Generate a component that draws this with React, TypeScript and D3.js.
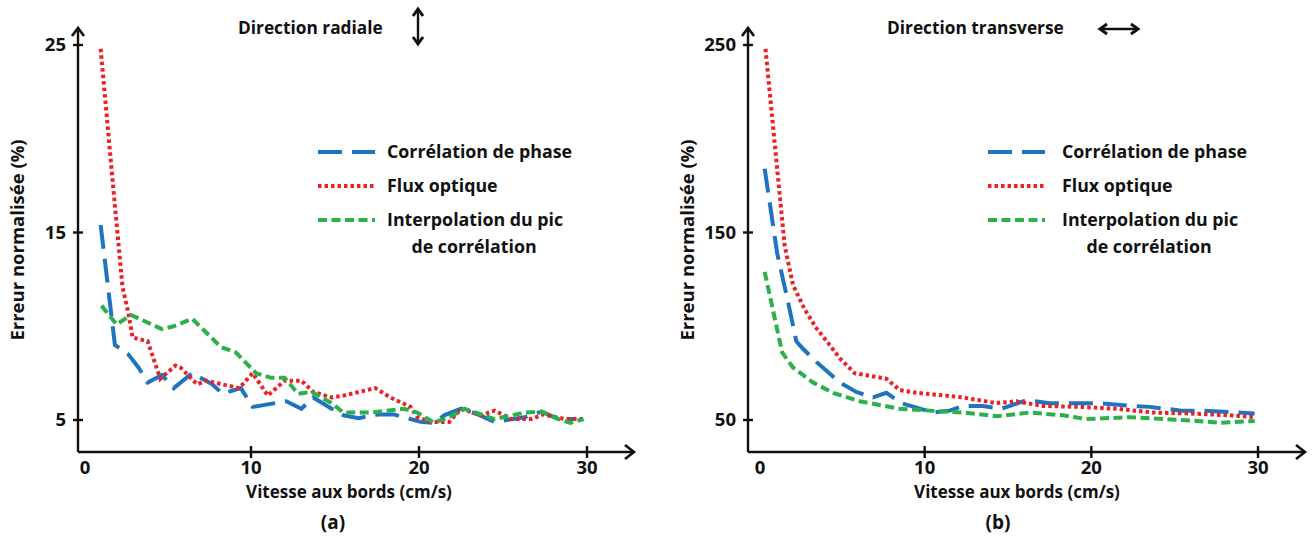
import React from "react";
import * as d3 from "d3";

// ---------- DATA ----------
// Panel (a): Direction radiale
const blueAX = [1.05, 1.9, 2.7, 3.3, 3.85, 4.7, 5.4, 6.5, 6.9, 7.7, 8.3, 9.4, 10.1, 12.1, 13.0, 13.7, 14.8, 15.5, 16.4, 17.6, 18.5, 20.1, 20.9, 21.5, 22.5, 23.5, 24.5, 26.3, 27.3, 28.3, 29.3];
const blueAY = [15.4, 9.0, 8.5, 7.8, 7.0, 7.4, 6.7, 7.5, 7.3, 6.9, 6.4, 6.7, 5.7, 6.0, 5.6, 6.2, 5.6, 5.25, 5.1, 5.3, 5.3, 4.9, 4.85, 5.25, 5.6, 5.3, 4.9, 5.15, 5.45, 5.05, 5.05];
const redAX = [1.05, 1.8, 2.35, 2.7, 2.95, 3.85, 4.6, 5.5, 5.8, 6.8, 7.3, 8.8, 9.3, 10.1, 11.0, 12.0, 13.0, 13.7, 14.8, 15.5, 17.4, 18.3, 19.5, 19.9, 20.7, 21.8, 22.5, 23.7, 24.5, 25.5, 26.7, 27.4, 28.7, 29.8];
const redAY = [24.8, 17.4, 12.1, 10.7, 9.4, 9.2, 7.2, 7.9, 7.8, 6.9, 7.1, 6.8, 6.7, 7.5, 6.3, 7.1, 7.1, 6.5, 6.2, 6.3, 6.7, 6.2, 5.7, 5.15, 4.9, 4.9, 5.6, 5.25, 5.5, 5.05, 5.05, 5.3, 5.05, 5.05];
const greenAX = [1.1, 2.0, 2.85, 4.7, 5.4, 6.5, 8.2, 9.1, 10.3, 11.2, 12.0, 12.8, 13.6, 14.8, 15.5, 17.1, 19.1, 19.9, 20.9, 21.9, 22.7, 24.5, 26.3, 27.3, 28.3, 29.0, 29.8];
const greenAY = [11.1, 10.1, 10.6, 9.85, 10.0, 10.4, 8.9, 8.6, 7.5, 7.25, 7.25, 6.4, 6.5, 5.9, 5.4, 5.4, 5.6, 5.4, 4.85, 5.2, 5.6, 5.05, 5.4, 5.45, 5.05, 4.85, 5.05];

// Panel (b): Direction transverse
const blueBX = [0.4, 1.15, 1.8, 2.3, 2.7, 3.5, 4.9, 5.9, 6.9, 7.7, 8.6, 10.5, 11.5, 12.3, 13.5, 14.6, 16.1, 17.5, 19.5, 20.5, 22.5, 23.5, 25.4, 26.6, 28.7, 29.8];
const blueBY = [184, 139, 113, 92, 88, 81, 70, 65, 62, 64.5, 59, 54, 55, 57.5, 57.5, 56, 60.5, 59, 59, 59, 57.5, 57, 55, 55, 54, 53.5];
const redBX = [0.45, 1.6, 2.1, 2.8, 3.5, 4.3, 4.9, 5.8, 7.7, 8.5, 9.5, 11.3, 12.3, 14.3, 15.5, 16.1, 17.1, 19.3, 21.5, 23.7, 25.9, 28.3, 29.8];
const redBY = [248, 143, 122, 109, 99, 90, 83, 75, 72, 66, 64.5, 63, 62, 59, 60, 59, 57.5, 57, 56, 54, 53.5, 52.5, 51.5];
const greenBX = [0.4, 1.45, 2.1, 3.3, 4.5, 6.1, 8.5, 10.3, 12.3, 14.3, 16.3, 18.3, 19.7, 22.3, 24.3, 26.3, 27.8, 29.8];
const greenBY = [129, 86, 78, 70, 64.5, 60, 56, 55, 54, 52, 54, 52.5, 50.5, 51.5, 50.5, 49.5, 48.5, 49.5];

const xTicks = [0, 10, 20, 30];
const yTicksA = [5, 15, 25];
const yTicksB = [50, 150, 250];
const seriesNames = ["Corrélation de phase", "Flux optique", "Interpolation du pic", "de corrélation"];
const xLabel = "Vitesse aux bords (cm/s)";
const yLabel = "Erreur normalisée (%)";

// ---------- STYLE ----------
const FONT = "'Open Sans', sans-serif";
const BLUE = "#1f74c0";
const RED = "#ec2127";
const GREEN = "#2cb04a";
const DASH_BLUE = "24 10";
const DASH_RED = "3.5 3";
const DASH_GREEN = "9 4.5";

type PanelProps = {
  left: number;
  x0: number; x30: number;
  yTicks: number[];
  yDomain: [number, number];
  series: { xs: number[]; ys: number[]; color: string; dash: string }[];
  title: string;
  titleX: number;
  arrow: "v" | "h";
  arrowX: number;
  legendX: number;
  legendTextX: number;
  tag: string;
  tagX: number;
  xLabelX: number;
  yLabelX: number;
};

function Panel(p: PanelProps) {
  const axisY = 452;
  const xs = d3.scaleLinear().domain([0, 30]).range([p.x0, p.x30]);
  const ys = d3.scaleLinear().domain(p.yDomain).range([420, 45]);
  const xEnd = p.x30 + 47;
  const line = d3.line<[number, number]>().x((d) => xs(d[0])).y((d) => ys(d[1]));
  const legendRows = [152, 186, 220];
  return (
    <g>
      <text x={p.titleX} y={34} fontFamily={FONT} fontWeight={700} fontSize={17.3} fill="#111">{p.title}</text>
      {p.arrow === "v" ? (
        <g stroke="#111" strokeWidth={2.4} fill="none">
          <line x1={p.arrowX} y1={9} x2={p.arrowX} y2={44} />
          <polyline points={`${p.arrowX - 5},${16} ${p.arrowX},${9} ${p.arrowX + 5},${16}`} strokeWidth={3} />
          <polyline points={`${p.arrowX - 5},${37} ${p.arrowX},${44} ${p.arrowX + 5},${37}`} strokeWidth={3} />
        </g>
      ) : (
        <g stroke="#111" strokeWidth={2.4} fill="none">
          <line x1={p.arrowX} y1={29} x2={p.arrowX + 38} y2={29} />
          <polyline points={`${p.arrowX + 7},${24} ${p.arrowX},${29} ${p.arrowX + 7},${34}`} strokeWidth={3} />
          <polyline points={`${p.arrowX + 31},${24} ${p.arrowX + 38},${29} ${p.arrowX + 31},${34}`} strokeWidth={3} />
        </g>
      )}
      <g stroke="#111" strokeWidth={2.4} fill="none">
        <line x1={p.left} y1={axisY} x2={p.left} y2={28} />
        <polyline points={`${p.left - 6},${36} ${p.left},${28} ${p.left + 6},${36}`} strokeWidth={2.6} />
        <line x1={p.left} y1={axisY} x2={xEnd} y2={axisY} />
        <polyline points={`${xEnd - 9},${axisY - 7} ${xEnd},${axisY} ${xEnd - 9},${axisY + 7}`} strokeWidth={2.6} />
        {p.yTicks.map((t) => (
          <line key={t} x1={p.left - 5} x2={p.left + 5} y1={ys(t)} y2={ys(t)} />
        ))}
        {xTicks.filter((t) => t > 0).map((t) => (
          <line key={t} x1={xs(t)} x2={xs(t)} y1={axisY - 6} y2={axisY + 6} />
        ))}
      </g>
      {p.yTicks.map((t) => (
        <text key={t} x={p.left - 12} y={ys(t)} dy="0.35em" textAnchor="end" fontFamily={FONT} fontWeight={700} fontSize={18.5} fill="#111">{t}</text>
      ))}
      {xTicks.map((t) => (
        <text key={t} x={xs(t) + (t === 0 ? 2 : 0)} y={474} textAnchor="middle" fontFamily={FONT} fontWeight={700} fontSize={18.5} fill="#111">{t}</text>
      ))}
      <text x={p.xLabelX} y={498} textAnchor="middle" fontFamily={FONT} fontWeight={700} fontSize={17} fill="#111">{xLabel}</text>
      <text x={p.tagX} y={529} textAnchor="middle" fontFamily={FONT} fontWeight={700} fontSize={19} fill="#111">{p.tag}</text>
      <text transform={`translate(${p.yLabelX},240) rotate(-90)`} textAnchor="middle" fontFamily={FONT} fontWeight={700} fontSize={18.5} fill="#111">{yLabel}</text>
      {p.series.map((s, i) => (
        <path key={i} d={line(s.xs.map((x, j) => [x, s.ys[j]] as [number, number])) || ""} fill="none" stroke={s.color} strokeWidth={4} strokeDasharray={s.dash} strokeLinejoin="miter" />
      ))}
      {p.series.map((s, i) => (
        <g key={i}>
          <line x1={p.legendX} x2={p.legendX + 57} y1={legendRows[i]} y2={legendRows[i]} stroke={s.color} strokeWidth={4} strokeDasharray={s.dash} />
          <text x={p.legendTextX} y={legendRows[i]} dy="0.35em" fontFamily={FONT} fontWeight={700} fontSize={17.8} fill="#111">{seriesNames[i]}</text>
        </g>
      ))}
      <text x={p.legendTextX + 87} y={247} dy="0.35em" textAnchor="middle" fontFamily={FONT} fontWeight={700} fontSize={17.8} fill="#111">{seriesNames[3]}</text>
    </g>
  );
}

export default function App() {
  const seriesA = [
    { xs: blueAX, ys: blueAY, color: BLUE, dash: DASH_BLUE },
    { xs: redAX, ys: redAY, color: RED, dash: DASH_RED },
    { xs: greenAX, ys: greenAY, color: GREEN, dash: DASH_GREEN },
  ];
  const seriesB = [
    { xs: blueBX, ys: blueBY, color: BLUE, dash: DASH_BLUE },
    { xs: redBX, ys: redBY, color: RED, dash: DASH_RED },
    { xs: greenBX, ys: greenBY, color: GREEN, dash: DASH_GREEN },
  ];
  return (
    <svg width={1315} height={539} style={{ position: "absolute", left: 0, top: 0, background: "#fff" }}>
      <rect width={1315} height={539} fill="#fff" />
      <Panel left={78} x0={83} x30={587} yTicks={yTicksA} yDomain={[5, 25]} series={seriesA}
        title="Direction radiale" titleX={238} arrow="v" arrowX={418}
        legendX={318} legendTextX={387} tag="(a)" tagX={333} xLabelX={349} yLabelX={24} />
      <Panel left={748} x0={758} x30={1258} yTicks={yTicksB} yDomain={[50, 250]} series={seriesB}
        title="Direction transverse" titleX={887} arrow="h" arrowX={1100}
        legendX={988} legendTextX={1062} tag="(b)" tagX={998} xLabelX={1017} yLabelX={694} />
    </svg>
  );
}
